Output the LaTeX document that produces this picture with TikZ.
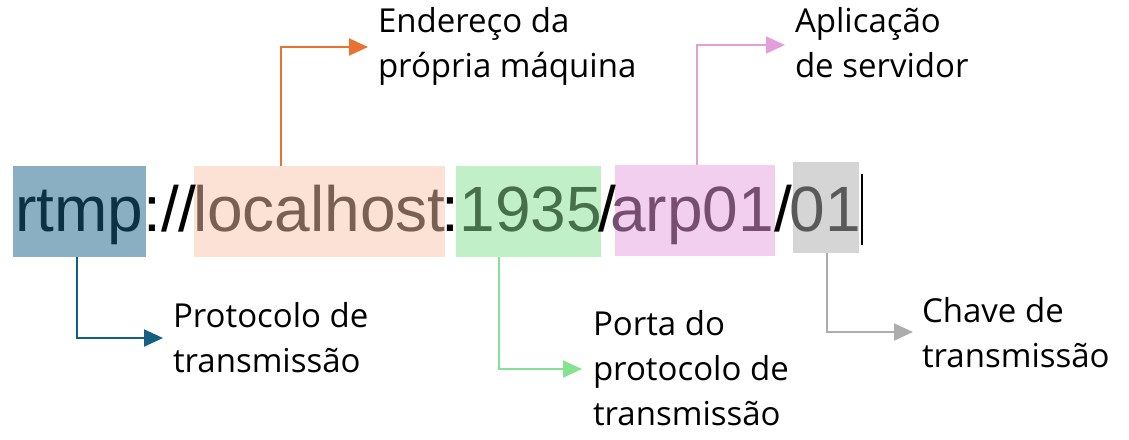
\documentclass[tikz,border=0pt]{standalone}
\usepackage{fontspec}
\setmainfont{Liberation Sans}
\newfontfamily\labfont{Open Sans}
\usetikzlibrary{arrows.meta}
\definecolor{boxBl}{HTML}{8BAFC2}
\definecolor{boxOr}{HTML}{FBE2D5}
\definecolor{boxGr}{HTML}{C1F0C8}
\definecolor{boxPk}{HTML}{F2CEEF}
\definecolor{boxGy}{HTML}{D5D5D5}
\definecolor{txBl}{HTML}{0C3044}
\definecolor{txOr}{HTML}{7A6052}
\definecolor{txGr}{HTML}{467049}
\definecolor{txPk}{HTML}{754E70}
\definecolor{txGy}{HTML}{595959}
\definecolor{arBl}{HTML}{156082}
\definecolor{arOr}{HTML}{E97132}
\definecolor{arGr}{HTML}{84E291}
\definecolor{arPk}{HTML}{E59EDD}
\definecolor{arGy}{HTML}{ADADAD}
\begin{document}
\begin{tikzpicture}[x=1pt,y=-1pt,
  hbox/.style={draw=none,inner sep=0,outer sep=0},
  urltext/.style={inner sep=0,outer sep=0,anchor=base,font=\fontsize{64}{64}\selectfont},
  lab/.style={inner sep=0,outer sep=0,anchor=base west,align=left,font=\labfont\fontsize{33}{45}\selectfont},
  arr/.style={line width=2pt,-{Triangle[length=19pt,width=17pt]}}]
\useasboundingbox (0,0) rectangle (1129,439);
% highlight boxes
\node[hbox,fill=boxBl,minimum width=133pt,minimum height=91pt] (rtbox) at (79.5,211.5) {};
\node[hbox,fill=boxOr,minimum width=251pt,minimum height=91pt] (lhbox) at (319.5,211.5) {};
\node[hbox,fill=boxGr,minimum width=145pt,minimum height=91pt] (ptbox) at (528.5,211.5) {};
\node[hbox,fill=boxPk,minimum width=160pt,minimum height=91pt] (arbox) at (695,210.5) {};
\node[hbox,fill=boxGy,minimum width=66pt,minimum height=91pt] (kbox) at (826,207.5) {};
% url text
\node[urltext,text=txBl] (t1) at (79.5,231) {rtmp};
\node[urltext] (t2) at (170,231) {://};
\node[urltext,text=txOr] (t3) at (319.5,231) {localhost};
\node[urltext] (t4) at (450,231) {:};
\node[urltext,text=txGr] (t5) at (531,231) {1935};
\node[urltext] (t6) at (607,231) {/};
\node[urltext,text=txPk] (t7) at (692,231) {arp01};
\node[urltext] (t8) at (783,231) {/};
\node[urltext,text=txGy] (t9) at (825,231) {01};
\draw[line width=1.3pt] (862,174) -- (862,245);
% labels (anchor = baseline of last line)
\node[lab] (lOr) at (378,77) {Endereço da\\própria máquina};
\node[lab] (lPk) at (795,77) {Aplicação\\de servidor};
\node[lab] (lBl) at (173,372) {Protocolo de\\transmissão};
\node[lab] (lGr) at (593,425) {Porta do\\protocolo de\\transmissão};
\node[lab] (lGy) at (922,367) {Chave de\\transmissão};
% bend and end coordinates
\coordinate (oB) at (281,47);  \coordinate (oE) at (368,47);
\coordinate (pB) at (697,45);  \coordinate (pE) at (785,45);
\coordinate (bB) at (77,338);  \coordinate (bE) at (163,338);
\coordinate (gB) at (499,369); \coordinate (gE) at (582,369);
\coordinate (yB) at (827,332); \coordinate (yE) at (913,332);
% connectors
\draw[arr,arOr] (lhbox.north -| oB) -- (oB) -- (oE);
\draw[arr,arPk] (arbox.north -| pB) -- (pB) -- (pE);
\draw[arr,arBl] (rtbox.south -| bB) -- (bB) -- (bE);
\draw[arr,arGr] (ptbox.south -| gB) -- (gB) -- (gE);
\draw[arr,arGy] (kbox.south -| yB) -- (yB) -- (yE);
\end{tikzpicture}
\end{document}
